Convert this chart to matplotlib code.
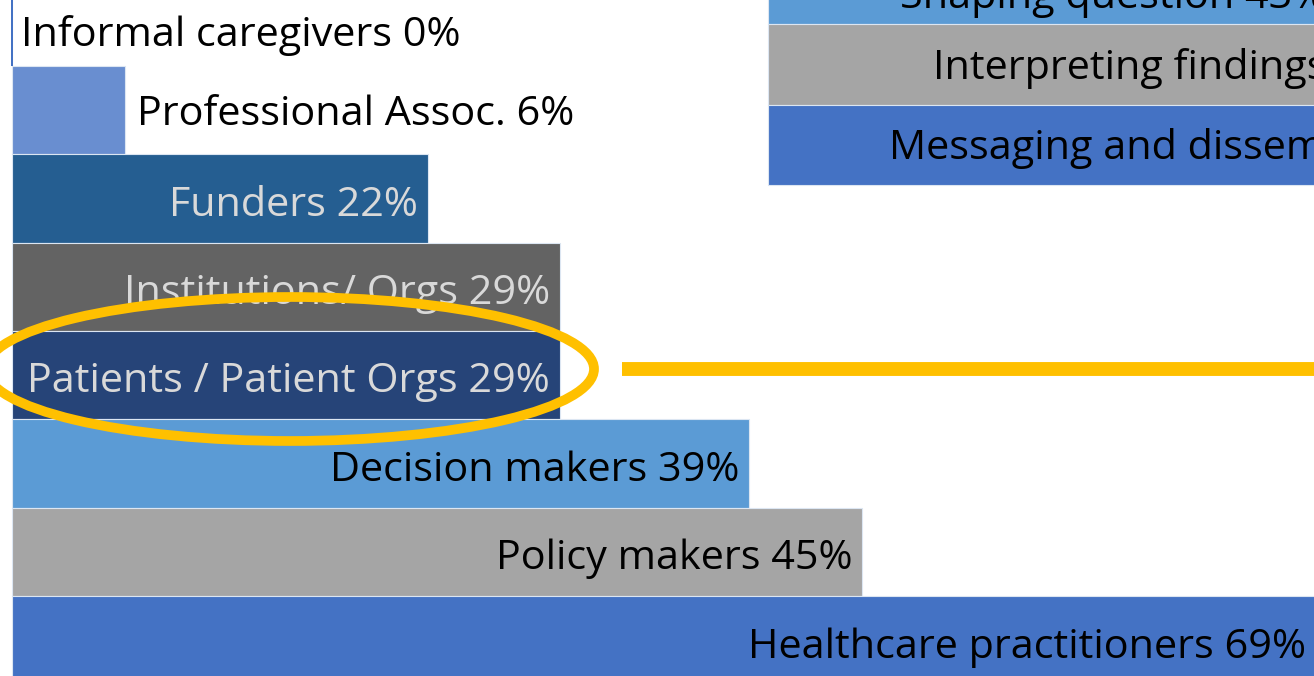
import matplotlib.pyplot as plt
from matplotlib.patches import Ellipse

plt.rcParams['font.family'] = ['Open Sans', 'DejaVu Sans']

# left chart: stakeholders engaged
groups = ['Informal caregivers', 'Professional Assoc.', 'Funders', 'Institutions/ Orgs',
          'Patients / Patient Orgs', 'Decision makers', 'Policy makers', 'Healthcare practitioners']
shares = [0, 6, 22, 29, 29, 39, 45, 69]

# right chart (cropped in the picture): stages of engagement
stages = ['Shaping question', 'Interpreting findings', 'Messaging and dissemination']
stage_shares = [43, 50, 60]

W, H = 1314, 676
FS = 29.8
left_colors = ['#4472C4', '#698ED0', '#255E91', '#636363', '#264478', '#5B9BD5', '#A5A5A5', '#4472C4']
left_text = ['black', 'black', '#D9D9D9', '#D9D9D9', '#D9D9D9', 'black', 'black', 'black']
right_colors = ['#5B9BD5', '#A5A5A5', '#4472C4']

fig = plt.figure(figsize=(W / 100, H / 100), dpi=100)

# pixel layout of the left chart
x0, px_per = 12, 18.9
y0, row = 21.5, 88.4
ax = fig.add_axes([0, 0, 1, 1])
ax.set_xlim(-x0 / px_per, (W - x0) / px_per)
ax.set_ylim((H - y0) / row, -y0 / row)
ax.axis('off')

ypos = list(range(len(groups)))
ax.barh(ypos, shares, height=1.0, color=left_colors, edgecolor='#DCE6F2', linewidth=0.8)
ax.barh([0], [0], height=1.0, color='none', edgecolor='#4472C4', linewidth=1.2)

pad = 10 / px_per
for y, v, name, tc in zip(ypos, shares, groups, left_text):
    label = f'{name} {v}%'
    if v == 0:
        ax.text(v + 9 / px_per, y + 14 / row, label, ha='left', va='center', fontsize=FS, color='black')
    elif v < 10:
        ax.text(v + 12 / px_per, y + 5 / row, label, ha='left', va='center', fontsize=FS, color='black')
    else:
        ax.text(v - pad, y + 7 / row, label, ha='right', va='center', fontsize=FS, color=tc)

# highlight around patients row
ax.add_patch(Ellipse(((290 - x0) / px_per, (369 - y0) / row), 608 / px_per, 144 / row,
                     fill=False, edgecolor='#FFC000', linewidth=7, zorder=5))
ax.plot([(622 - x0) / px_per, (W + 20 - x0) / px_per], [(369 - y0) / row] * 2,
        color='#FFC000', linewidth=10, solid_capstyle='butt', zorder=5)

# right chart, running off the edge
rx0, rpx = 768, 13.2
ry0, rrow = -16, 80.5
ax2 = fig.add_axes([0, 0, 1, 1])
ax2.patch.set_alpha(0)
ax2.set_xlim(-rx0 / rpx, (W - rx0) / rpx)
ax2.set_ylim((H - ry0) / rrow, -ry0 / rrow)
ax2.axis('off')
rpos = list(range(len(stages)))
ax2.barh(rpos, stage_shares, height=1.0, color=right_colors, edgecolor='#DCE6F2', linewidth=0.8)
for y, v, name in zip(rpos, stage_shares, stages):
    dy = 14 if y == 0 else 4
    ax2.text(v - 9 / rpx, y + dy / rrow, f'{name} {v}%', ha='right', va='center', fontsize=FS, color='black')

fig.savefig('out.png', dpi=100)
